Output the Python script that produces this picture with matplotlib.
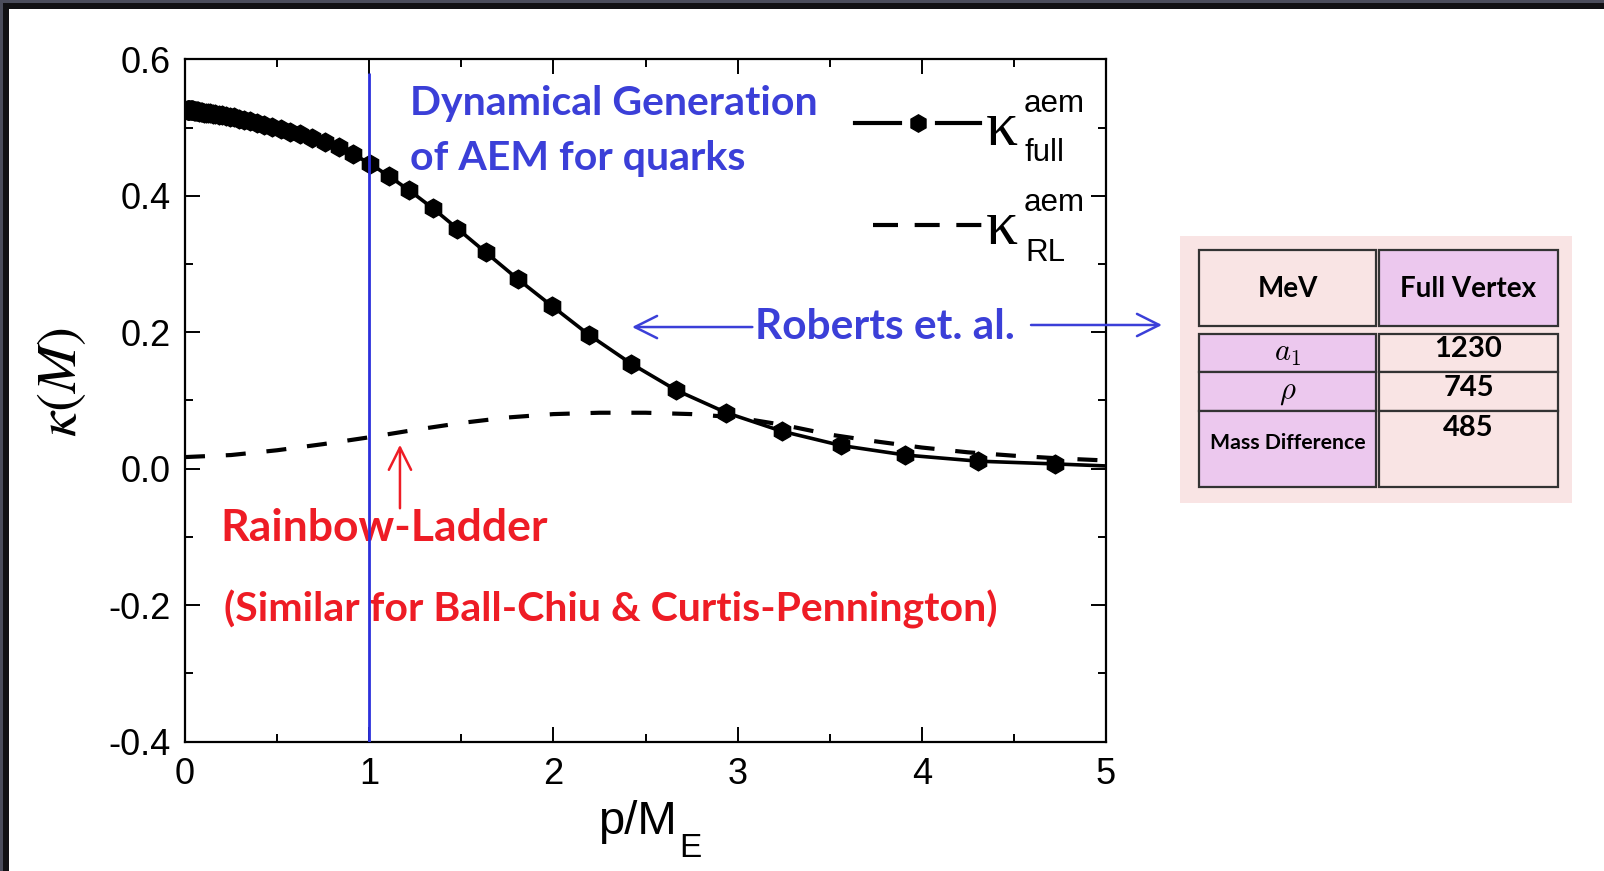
import matplotlib
matplotlib.use("Agg")
import matplotlib.pyplot as plt
from matplotlib.patches import Rectangle
from matplotlib.lines import Line2D

# ---- data -------------------------------------------------------------
# full-vertex anomalous magnetic moment kappa(M) vs p/M_E (with markers)
p_full = [0.000, 0.012, 0.014, 0.016, 0.018, 0.020, 0.022, 0.024, 0.027,
          0.030, 0.033, 0.036, 0.040, 0.044, 0.048, 0.053, 0.058, 0.064,
          0.070, 0.077, 0.085, 0.093, 0.103, 0.113, 0.124, 0.137, 0.150,
          0.165, 0.182, 0.200, 0.220, 0.242, 0.266, 0.293, 0.322, 0.354,
          0.390, 0.429, 0.471, 0.519, 0.570, 0.627, 0.690, 0.759, 0.835,
          0.913, 1.004, 1.106, 1.217, 1.344, 1.478, 1.633, 1.806, 1.994,
          2.194, 2.422, 2.667, 2.939, 3.239, 3.561, 3.911, 4.306, 4.722,
          5.000]
kappa_full = [0.525, 0.525, 0.525, 0.525, 0.525, 0.525, 0.525, 0.525, 0.525,
              0.525, 0.525, 0.525, 0.525, 0.525, 0.524, 0.524, 0.524, 0.524,
              0.524, 0.523, 0.523, 0.523, 0.522, 0.522, 0.521, 0.521, 0.520,
              0.520, 0.519, 0.518, 0.517, 0.516, 0.515, 0.513, 0.511, 0.509,
              0.507, 0.504, 0.501, 0.498, 0.494, 0.490, 0.485, 0.479, 0.471,
              0.461, 0.447, 0.429, 0.408, 0.382, 0.352, 0.317, 0.278, 0.238,
              0.196, 0.154, 0.115, 0.082, 0.055, 0.034, 0.020, 0.011, 0.007,
              0.004]

# rainbow-ladder result (dashed)
p_rl = [0.00, 0.25, 0.50, 0.75, 1.00, 1.25, 1.50, 1.75, 2.00, 2.25, 2.50,
        2.75, 3.00, 3.25, 3.50, 3.75, 4.00, 4.25, 4.50, 4.75, 5.00]
kappa_rl = [0.017, 0.020, 0.027, 0.036, 0.046, 0.057, 0.067, 0.075, 0.080,
            0.082, 0.082, 0.080, 0.075, 0.064, 0.050, 0.040, 0.031, 0.024,
            0.019, 0.015, 0.012]

x_ticks = [0, 1, 2, 3, 4, 5]
y_ticks = [-0.4, -0.2, 0.0, 0.2, 0.4, 0.6]
y_tick_labels = ["-0.4", "-0.2", "0.0", "0.2", "0.4", "0.6"]

p_mark = 1.0          # vertical guide at p = M_E
p_mark_top = 0.58

table_header = ["MeV", "Full Vertex"]
table_rows = [r"$a_1$", r"$\rho$", "Mass Difference"]
table_values = ["1230", "745", "485"]

# ---- style ------------------------------------------------------------
BLUE = "#3b3fd8"
BLUE_LINE = "#2c30dc"
RED = "#ee1c25"
PINK = "#f9e4e4"
VIOLET = "#ecc8ee"
SANS = "Liberation Sans"
CAL = "Lato"

plt.rcParams["font.family"] = [SANS, "DejaVu Sans"]

W, H = 1604, 871
fig = plt.figure(figsize=(W / 100, H / 100), dpi=100)

# dark frame along the top and left edges
fig.patches.append(Rectangle((0, 1 - 9 / H), 1, 9 / H, transform=fig.transFigure,
                             facecolor="#111114", edgecolor="none", zorder=0))
fig.patches.append(Rectangle((0, 1 - 3.3 / H), 1, 3.3 / H, transform=fig.transFigure,
                             facecolor="#4b4d5c", edgecolor="none", zorder=1))
fig.patches.append(Rectangle((0, 0), 9 / W, 1, transform=fig.transFigure,
                             facecolor="#111114", edgecolor="none", zorder=0))
fig.patches.append(Rectangle((0, 0), 3.3 / W, 1, transform=fig.transFigure,
                             facecolor="#4b4d5c", edgecolor="none", zorder=1))

# ---- main axes --------------------------------------------------------
x0, x1, ytop, ybot = 185, 1106, 59.3, 741.6
ax = fig.add_axes([x0 / W, 1 - ybot / H, (x1 - x0) / W, (ybot - ytop) / H])
ax.set_xlim(0, 5)
ax.set_ylim(-0.4, 0.6)

ax.plot(p_rl, kappa_rl, color="black", lw=3.0, dashes=(4.8, 5.0), zorder=3)
ax.plot(p_full, kappa_full, color="black", lw=2.6, zorder=4)
ax.plot(p_full[:-1], kappa_full[:-1], ls="none", marker="h", ms=13.5,
        color="black", zorder=5)

ax.vlines(p_mark, -0.4, p_mark_top, color=BLUE_LINE, lw=2.0, zorder=6)

ax.set_xticks(x_ticks)
ax.set_xticks([0.5, 1.5, 2.5, 3.5, 4.5], minor=True)
ax.set_yticks(y_ticks)
ax.set_yticklabels(y_tick_labels)
ax.set_yticks([-0.3, -0.1, 0.1, 0.3, 0.5], minor=True)
ax.tick_params(which="both", direction="in", top=True, right=True,
               width=1.4, labelsize=26)
ax.tick_params(which="major", length=11)
ax.tick_params(which="minor", length=5.5)
ax.tick_params(axis="x", pad=11)
ax.tick_params(axis="y", pad=10)
for s in ax.spines.values():
    s.set_linewidth(1.6)

# x-axis title: p/M with a lowered subscript E
ta = ax.transAxes
ax.text(0.534, -0.1354, "p/M", transform=ta, fontsize=34, ha="right", va="baseline")
ax.text(0.5365, -0.169, "E", transform=ta, fontsize=24, ha="left", va="baseline")
ax.set_ylabel(r"$\kappa(M)$", fontsize=41, math_fontfamily="stix")
ax.yaxis.set_label_coords(-0.105, 0.527)

# ---- legend (drawn by hand) ------------------------------------------
ax.add_line(Line2D([0.7275, 0.7763], [0.906, 0.906], transform=ta, color="black", lw=3))
ax.add_line(Line2D([0.8162, 0.8632], [0.906, 0.906], transform=ta, color="black", lw=3))
ax.add_line(Line2D([0.7962], [0.906], transform=ta, marker="h", ms=12.5, color="black"))
ax.add_line(Line2D([0.7473, 0.865], [0.757, 0.757], transform=ta, color="black",
                   lw=3.0, dashes=(6.0, 4.0)))
for yk, ysup, ysub, sub in [(0.896, 0.935, 0.863, "full"), (0.752, 0.790, 0.716, "RL")]:
    ax.text(0.869, yk, "κ", transform=ta, fontsize=46, family="Liberation Serif",
            ha="left", va="center")
    ax.text(0.911, ysup, "aem", transform=ta, fontsize=22.5, ha="left", va="center")
    ax.text(0.912, ysub, sub, transform=ta, fontsize=22.5, ha="left", va="center")

# ---- annotations ------------------------------------------------------
ax.text(1.223, 0.535, "Dynamical Generation", color=BLUE, fontsize=29.5,
        family=CAL, weight="bold", ha="left", va="center")
ax.text(1.223, 0.455, "of AEM for quarks", color=BLUE, fontsize=29.5,
        family=CAL, weight="bold", ha="left", va="center")
ax.text(3.094, 0.2076, "Roberts et. al.", color=BLUE, fontsize=30.5,
        family=CAL, weight="bold", ha="left", va="center")

arrow_kw = dict(arrowstyle="->,head_length=0.8,head_width=0.4", mutation_scale=20,
                lw=1.8, shrinkA=0, shrinkB=0)
ax.annotate("", xy=(2.427, 0.2076), xytext=(3.08, 0.2076),
            arrowprops=dict(color=BLUE, **arrow_kw))
ax.annotate("", xy=(5.304, 0.2106), xytext=(4.593, 0.2106),
            arrowprops=dict(color=BLUE, **arrow_kw), annotation_clip=False)
ax.annotate("", xy=(1.167, 0.035), xytext=(1.167, -0.058),
            arrowprops=dict(color=RED, **arrow_kw))

ax.text(0.19, -0.087, "Rainbow-Ladder", color=RED, fontsize=32,
        family=CAL, weight="bold", ha="left", va="center")
ax.text(0.212, -0.207, "(Similar for Ball-Chiu & Curtis-Pennington)", color=RED,
        fontsize=29.5, family=CAL, weight="bold", ha="left", va="center")

# ---- mass table -------------------------------------------------------
tx0, tx1, ty0, ty1 = 1180, 1572, 236, 503
axt = fig.add_axes([tx0 / W, 1 - ty1 / H, (tx1 - tx0) / W, (ty1 - ty0) / H])
axt.set_xlim(tx0, tx1)
axt.set_ylim(ty1, ty0)
axt.axis("off")
axt.add_patch(Rectangle((tx0, ty0), tx1 - tx0, ty1 - ty0, facecolor=PINK,
                        edgecolor="none"))

cl, cr = (1199, 1376), (1379, 1558)
edge = dict(edgecolor="#333333", lw=1.6)
axt.add_patch(Rectangle((cl[0], 250), cl[1] - cl[0], 76, facecolor=PINK, **edge))
axt.add_patch(Rectangle((cr[0], 250), cr[1] - cr[0], 76, facecolor=VIOLET, **edge))
axt.text(sum(cl) / 2, 289, table_header[0], family=CAL, weight="bold",
         fontsize=20, ha="center", va="center")
axt.text(sum(cr) / 2, 289, table_header[1], family=CAL, weight="bold",
         fontsize=20, ha="center", va="center")

row_bounds = [(334, 372), (372, 411), (411, 487)]
label_y = [353, 392, 443]
value_y = [349, 388, 428]
for i, (ya, yb) in enumerate(row_bounds):
    axt.add_patch(Rectangle((cl[0], ya), cl[1] - cl[0], yb - ya, facecolor=VIOLET, **edge))
    axt.add_patch(Rectangle((cr[0], ya), cr[1] - cr[0], yb - ya, facecolor=PINK, **edge))
    if table_rows[i].startswith("$"):
        axt.text(sum(cl) / 2, label_y[i], table_rows[i], fontsize=22,
                 math_fontfamily="cm", ha="center", va="center")
    else:
        axt.text(sum(cl) / 2, label_y[i], table_rows[i], family=CAL, weight="bold",
                 fontsize=15.3, ha="center", va="center")
    axt.text(sum(cr) / 2, value_y[i], table_values[i], family=CAL, weight="bold",
             fontsize=21, ha="center", va="center")

fig.savefig("out.png", dpi=100)
